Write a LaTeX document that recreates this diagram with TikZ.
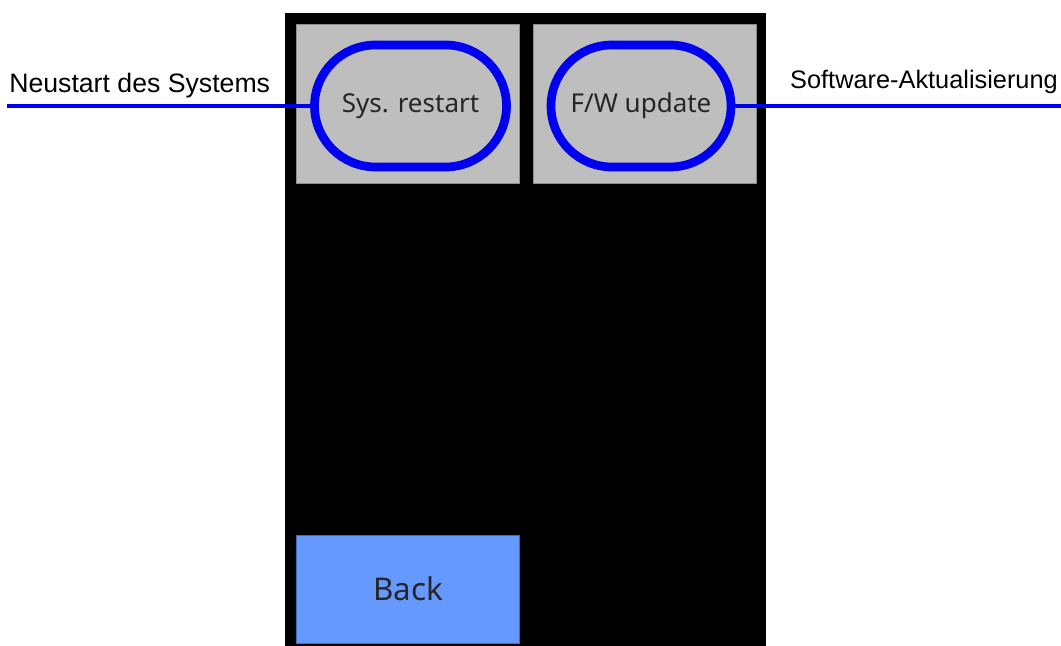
\documentclass[tikz,border=0pt]{standalone}
\usepackage{fontspec}
\setmainfont{Liberation Sans}
\newfontfamily\uifont{Noto Sans}
\usetikzlibrary{shapes.misc}

\definecolor{keygray}{HTML}{BEBEBE}
\definecolor{keyedge}{HTML}{8C8C8C}
\definecolor{ringblue}{HTML}{0000F0}
\definecolor{backblue}{HTML}{6699FF}

\tikzset{
  keybox/.style={rectangle, fill=keygray, draw=keyedge, line width=0.6pt,
    minimum width=167.25pt, minimum height=119.25pt, inner sep=0pt},
  ring/.style={rounded rectangle, draw=ringblue, line width=6.5pt,
    minimum height=91.5pt, inner sep=0pt, text=black!85,
    font=\uifont\fontsize{19.5}{21}\selectfont},
  callout/.style={font=\fontsize{19.5}{22}\selectfont, inner sep=0pt},
  leader/.style={draw=ringblue, line width=3.6pt},
}

\begin{document}
\begin{tikzpicture}[x=0.75pt, y=-0.75pt]
  \useasboundingbox (0,0) rectangle (1061,646);

  % display area
  \fill[black] (285,13) rectangle (766,646);

  % upper keys
  \node[keybox] (keyA) at (407.5,103.5) {};
  \node[keybox] (keyB) at (644.5,103.5) {};
  \node[ring, minimum width=144pt] (restart) at (410.5,106) {Sys. restart};
  \node[ring, minimum width=135pt] (update) at (641,106) {F/W update};

  % back key
  \node[rectangle, fill=backblue, draw=backblue!70!black, line width=0.6pt,
    minimum width=167.25pt, minimum height=81pt, inner sep=0pt, text=black!85,
    font=\uifont\fontsize{23.5}{26}\selectfont] (back) at (408,589) {Back};

  % callouts
  \coordinate (leftend) at (7,106);
  \coordinate (rightend) at (1061,106);
  \node[callout, anchor=base west, font=\fontsize{20}{22}\selectfont] (restartlbl) at (9,92) {Neustart des Systems};
  \node[callout, anchor=base east, font=\fontsize{19}{22}\selectfont] (updatelbl) at (1058,88) {Software-Aktualisierung};
  \draw[leader] (restart.west) -- (leftend);
  \draw[leader] (update.east) -- (rightend);
\end{tikzpicture}
\end{document}
